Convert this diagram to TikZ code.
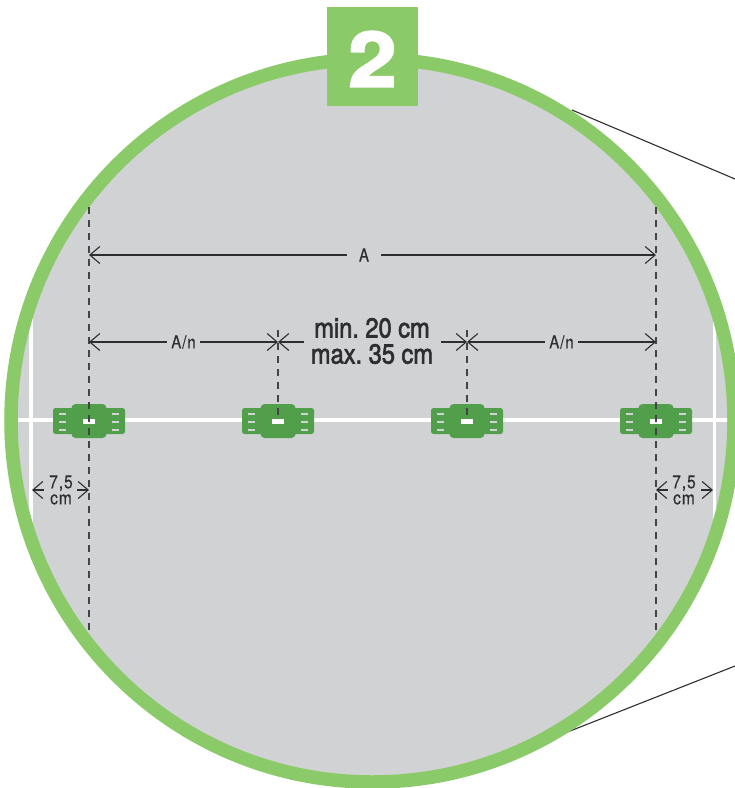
\documentclass[tikz,border=0pt]{standalone}
\usepackage{fontspec}
\usetikzlibrary{arrows.meta}
\setmainfont{TeX Gyre Heros}
\newfontfamily\condf[FakeStretch=0.86,FakeBold=2.2]{TeX Gyre Heros}
\newfontfamily\smallf[FakeStretch=0.84,LetterSpace=5,FakeBold=0.25]{TeX Gyre Heros}
\newfontfamily\numf[FakeStretch=1.14,FakeBold=3]{TeX Gyre Heros Bold}
\definecolor{ringgreen}{HTML}{8ACA69}
\definecolor{clipgreen}{HTML}{519F4A}
\definecolor{plate}{HTML}{D1D2D4}
\definecolor{ink}{HTML}{2E2E30}
\definecolor{guideink}{HTML}{444446}
\tikzset{
  x=1pt,y=-1pt,
  dimline/.style={draw=ink,line width=1.1pt,arrows={-}},
  tipped/.style={dimline,{Straight Barb[length=10pt,width=17pt,line width=1.1pt]}-},
  guide/.style={draw=guideink,line width=1.2pt,dash pattern=on 7pt off 6pt},
  leader/.style={draw=ink,line width=1.1pt},
  whiteline/.style={draw=white,line width=3.6pt},
  dimlabel/.style={inner sep=0pt,text=ink,font=\smallf\fontsize{18}{18}\selectfont},
  smalllabel/.style={inner sep=0pt,text=ink,align=center,font=\smallf\fontsize{18.5}{16}\selectfont},
  slit/.style={fill=plate,draw=none},
  clipdev/.pic={
    \fill[clipgreen,rounded corners=2.5pt] (-36,-13) rectangle (36,13);
    \fill[clipgreen,rounded corners=4pt] (-17.5,-17) rectangle (17.5,17);
    \fill[slit] (-30,-8.5) rectangle (-23,-6.5);
    \fill[slit] (-30,-0.5) rectangle (-23,1.5);
    \fill[slit] (-30,8) rectangle (-23,10);
    \fill[slit] (23,-8.5) rectangle (30,-6.5);
    \fill[slit] (23,-0.5) rectangle (30,1.5);
    \fill[slit] (23,8) rectangle (30,10);
    \fill[white] (-6,-2) rectangle (6,2.5);
    \node[inner sep=0pt,minimum size=0pt] (-body) at (0,0) {};
  }
}
\begin{document}
\begin{tikzpicture}
\useasboundingbox (0,0) rectangle (735,788);
\clip (0,0) rectangle (735,788);
% leaders to the detail
\coordinate (lt) at (572,110);
\coordinate (ltend) at (735,179);
\coordinate (lb) at (565,733);
\coordinate (lbend) at (735,666);
\draw[leader] (lt) -- (ltend);
\draw[leader] (lb) -- (lbend);
% disc
\fill[plate] (372.5,420.5) circle (355pt);
\begin{scope}
  \clip (372.5,420.5) circle (355pt);
  \draw[whiteline] (0,420) -- (735,420);
  \draw[whiteline] (31,300) -- (31,540);
  \draw[whiteline] (714.5,300) -- (714.5,540);
\end{scope}
\draw[ringgreen,line width=13.5pt] (372.5,420.5) circle (361.5pt);
% badge
\node[fill=ringgreen,minimum width=91pt,minimum height=99pt,inner sep=0pt,anchor=north west] (badge) at (327,7) {};
\node[inner sep=0pt,text=white,font=\numf\fontsize{76}{76}\selectfont] (num) at (372.5,59) {2};
% clips
\pic (d1) at (89,421) {clipdev};
\pic (d2) at (278,421) {clipdev};
\pic (d3) at (467,421) {clipdev};
\pic (d4) at (656,421) {clipdev};
% guide ends and tick points
\coordinate (g1t) at (89,207);
\coordinate (g1b) at (89,634);
\coordinate (g4t) at (656,207);
\coordinate (g4b) at (656,634);
\coordinate (g2t) at (278,330);
\coordinate (g3t) at (467,330);
\coordinate (g2b) at (278,420);
\coordinate (g3b) at (467,420);
\draw[guide] (g1t) -- (g1b);
\draw[guide] (g4t) -- (g4b);
\draw[guide] (g2t) -- (g2b);
\draw[guide] (g3t) -- (g3b);
% dimension A
\coordinate (al) at (89,255);
\coordinate (ar) at (656,255);
\node[dimlabel,minimum width=34pt] (la) at (364,255) {A};
\draw[tipped] (al) -- (la);
\draw[tipped] (ar) -- (la);
% dimension A/n
\coordinate (b1) at (89,342);
\coordinate (b2) at (278,342);
\coordinate (b3) at (467,342);
\coordinate (b4) at (656,342);
\node[dimlabel,minimum width=33pt] (lb1) at (183.5,342) {A/n};
\node[dimlabel,minimum width=33pt] (lb2) at (561.5,342) {A/n};
\draw[tipped] (b1) -- (lb1);
\draw[tipped] (b2) -- (lb1);
\draw[tipped] (b3) -- (lb2);
\draw[tipped] (b4) -- (lb2);
% min / max
\node[inner sep=0pt,text=ink,align=center,font=\condf\fontsize{27.5}{26}\selectfont,text width=140pt] (lm) at (372,341) {\frenchspacing\spaceskip=6.5pt\relax min. 20 cm\\max. 35 cm};
\draw[tipped] (b2) -- ++(26,0) coordinate (m1);
\draw[tipped] (b3) -- ++(-26,0) coordinate (m2);
% 7,5 cm
\node[smalllabel] (s1) at (61,490) {7,5\\cm};
\node[smalllabel] (s2) at (684,490) {7,5\\cm};
\coordinate (c1) at (32,490);
\coordinate (c2) at (89,490);
\coordinate (c3) at (656,490);
\coordinate (c4) at (713,490);
\draw[tipped] (c1) -- ++(12,0) coordinate (e1);
\draw[tipped] (c2) -- ++(-12,0) coordinate (e2);
\draw[tipped] (c3) -- ++(12,0) coordinate (e3);
\draw[tipped] (c4) -- ++(-12,0) coordinate (e4);
\end{tikzpicture}
\end{document}
